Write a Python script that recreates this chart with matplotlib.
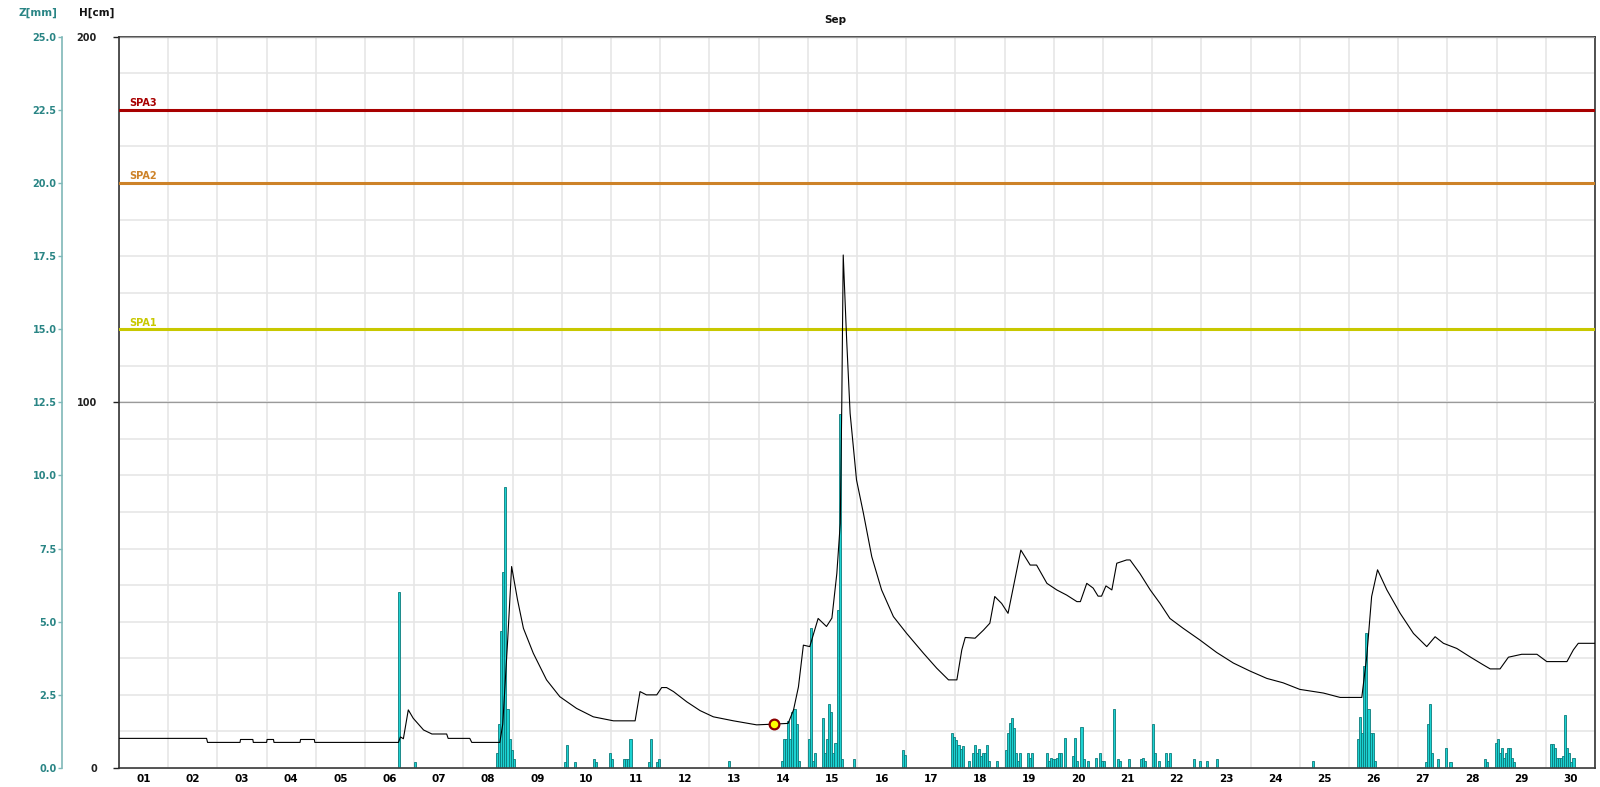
import matplotlib
matplotlib.use("Agg")
import matplotlib.pyplot as plt
import numpy as np
from matplotlib.ticker import MultipleLocator, FixedLocator, FuncFormatter

# ---------------- data ----------------
day_labels = [f"{d:02d}" for d in range(1, 31)]
month_label = "Sep"

# water level H [cm], (day offset from Sep 1 00:00, value)
h_days = [0.0, 1.78, 1.80, 2.46, 2.47, 2.72, 2.73, 3.00, 3.01, 3.14, 3.15, 3.68, 3.69, 3.97, 3.98,
          5.68, 5.72, 5.78, 5.88, 5.98, 6.19, 6.36, 6.66, 6.69, 7.13, 7.17, 7.74, 7.80, 7.90, 7.98,
          8.10, 8.22, 8.42, 8.69, 8.96, 9.30, 9.64, 10.05, 10.49, 10.59, 10.72, 10.93, 11.03, 11.13,
          11.27, 11.54, 11.81, 12.08, 12.49, 12.96, 13.31, 13.60, 13.71, 13.81, 13.91, 14.04, 14.21,
          14.38, 14.49, 14.59, 14.66, 14.69, 14.72, 14.79, 14.86, 14.99, 15.13, 15.30, 15.50, 15.74,
          16.01, 16.35, 16.62, 16.86, 17.03, 17.13, 17.20, 17.40, 17.57, 17.70, 17.80, 17.94, 18.07,
          18.18, 18.33, 18.52, 18.65, 18.86, 19.06, 19.26, 19.47, 19.54, 19.67, 19.80, 19.90, 19.97,
          20.06, 20.18, 20.28, 20.48, 20.55, 20.75, 20.96, 21.16, 21.36, 21.63, 21.97, 22.31, 22.65,
          22.99, 23.33, 23.66, 24.00, 24.48, 24.82, 25.26, 25.36, 25.46, 25.58, 25.77, 26.04, 26.31,
          26.58, 26.75, 26.92, 27.19, 27.46, 27.73, 27.87, 28.07, 28.24, 28.51, 28.82, 29.02, 29.43,
          29.56, 29.66, 30.0]
h_cm = [8.1, 8.1, 7.0, 7.0, 7.8, 7.8, 7.0, 7.0, 7.8, 7.8, 7.0, 7.0, 7.8, 7.8, 7.0,
        7.0, 8.5, 8.0, 15.9, 13.6, 10.4, 9.3, 9.3, 8.1, 8.1, 7.0, 7.0, 12.0, 35.0, 55.1,
        46.0, 38.2, 31.4, 24.1, 19.5, 16.3, 14.0, 12.9, 12.9, 20.9, 20.0, 20.0, 22.0, 22.0,
        20.9, 18.1, 15.7, 14.0, 12.9, 11.8, 12.0, 12.2, 15.9, 22.2, 33.6, 33.2, 40.9,
        38.7, 41.0, 53.2, 66.9, 98.8, 140.3, 117.0, 97.0, 78.8, 69.7, 57.8, 48.7, 41.4,
        36.8, 31.4, 27.3, 24.1, 24.1, 32.3, 35.7, 35.5, 37.7, 39.6, 46.9, 45.0, 42.3,
        49.6, 59.6, 55.5, 55.5, 50.5, 48.7, 47.3, 45.5, 45.5, 50.5, 49.2, 47.0, 47.0,
        49.8, 48.7, 56.0, 56.9, 56.9, 53.2, 48.7, 45.0, 40.9, 38.2, 35.0, 31.6, 28.7,
        26.5, 24.5, 23.3, 21.5, 20.5, 19.3, 19.3, 30.4, 46.9, 54.2, 48.7, 42.3, 36.8,
        33.2, 35.9, 34.1, 32.7, 30.4, 28.2, 27.1, 27.1, 30.3, 31.1, 31.1, 29.1, 29.1,
        32.3, 34.1, 34.1]

# hourly precipitation Z [mm], (hour index from Sep 1 00:00, value)
rain_hour = [136, 144,
             184, 185, 186, 187, 188, 189, 190, 191, 192,
             217, 218, 222, 231, 232, 239, 240, 246, 247, 248, 249, 258, 259, 262, 263, 297,
             323, 324, 325, 326, 327, 328, 329, 330, 331,
             336, 337, 338, 339, 343, 344, 345, 346, 347, 348, 349, 350, 351, 352, 358,
             382, 383,
             406, 407, 408, 409, 410, 411, 414, 416, 417, 418, 419, 420, 421, 422, 423, 424,
             428, 432, 433, 434, 435, 436, 437, 438, 439, 443, 444, 445,
             452, 453, 454, 455, 456, 457, 458, 459, 461, 465, 466, 467, 469, 470, 472,
             476, 478, 479, 480, 485, 487, 488, 492, 498, 499, 500,
             504, 505, 507, 510, 511, 512, 524, 527, 530, 535, 582,
             604, 605, 606, 607, 608, 609, 610, 611, 612,
             637, 638, 639, 640, 643, 647, 649, 666, 667,
             671, 672, 673, 674, 675, 676, 677, 678, 679, 680,
             698, 699, 700, 701, 702, 703, 704, 705, 706, 707, 708, 709]
rain_mm = [6.0, 0.2,
           0.5, 1.5, 4.7, 6.7, 9.6, 2.0, 1.0, 0.6, 0.3,
           0.2, 0.8, 0.2, 0.3, 0.2, 0.5, 0.3, 0.3, 0.3, 0.3, 1.0, 0.2, 1.0, 0.2, 0.3, 0.25,
           0.25, 1.0, 1.0, 1.6, 1.0, 1.9, 2.0, 1.5, 0.25,
           1.0, 4.8, 0.25, 0.5, 1.7, 0.5, 1.0, 2.2, 1.9, 0.5, 0.85, 5.4, 12.1, 0.3, 0.3,
           0.6, 0.45,
           1.2, 1.05, 0.95, 0.8, 0.65, 0.75, 0.25, 0.5, 0.8, 0.5, 0.65, 0.4, 0.5, 0.5, 0.8, 0.25,
           0.23, 0.63, 1.2, 1.54, 1.71, 1.37, 0.5, 0.23, 0.5, 0.5, 0.35, 0.5,
           0.5, 0.23, 0.35, 0.3, 0.3, 0.35, 0.5, 0.5, 1.03, 0.4, 1.03, 0.23, 1.4, 0.3, 0.23,
           0.35, 0.5, 0.23, 0.23, 2.0, 0.3, 0.23, 0.3, 0.3, 0.35, 0.23,
           1.5, 0.5, 0.25, 0.5, 0.25, 0.5, 0.3, 0.25, 0.25, 0.3, 0.25,
           1.0, 1.73, 1.2, 3.5, 4.63, 2.0, 1.2, 1.2, 0.25,
           0.22, 1.5, 2.19, 0.5, 0.3, 0.67, 0.22, 0.3, 0.22,
           0.84, 0.99, 0.5, 0.67, 0.33, 0.5, 0.67, 0.67, 0.33, 0.22,
           0.82, 0.82, 0.67, 0.33, 0.33, 0.33, 0.41, 1.81, 0.67, 0.5, 0.22, 0.33]

spa_names = ["SPA1", "SPA2", "SPA3"]
spa_levels = [120, 160, 180]
spa_colors = ["#C8C800", "#CD8228", "#A80000"]

marker_day = [13.31]
marker_cm = [12.0]

# ---------------- figure ----------------
W, H = 1600, 787
fig = plt.figure(figsize=(16, 7.87), dpi=100)
left, right, bottom, top = 119 / W, 1595 / W, (H - 768) / H, (H - 36.7) / H
axz = fig.add_axes([left, bottom, right - left, top - bottom])  # rain axis (mm)
axh = axz.twinx()                                                 # water level axis (cm)

teal = "#2A8585"
grid_col = "#E6E6E6"

# rain axis
axz.set_xlim(0, 30)
axz.set_ylim(0, 25)
axz.set_axisbelow(True)
axz.bar(np.array(rain_hour) / 24.0, rain_mm, width=1 / 24.0, align="edge",
        color="#1CD2D2", edgecolor="#0B7B7B", linewidth=0.6, zorder=2)
axz.yaxis.set_major_locator(MultipleLocator(2.5))
axz.yaxis.set_minor_locator(MultipleLocator(1.25))
axz.yaxis.set_major_formatter(FuncFormatter(lambda v, p: f"{v:.1f}"))
axz.spines["left"].set_position(("outward", 41))
axz.spines["left"].set_color("#7FB8B8")
axz.spines["left"].set_linewidth(1.2)
for s in ["top", "bottom", "right"]:
    axz.spines[s].set_color("#333333")
    axz.spines[s].set_linewidth(1.2)
axz.tick_params(axis="y", which="major", colors="#7FB8B8", length=3, width=1, pad=1,
                labelcolor=teal, labelsize=7)
axz.tick_params(axis="y", which="minor", length=0)
for t in axz.get_yticklabels():
    t.set_fontweight("bold")

# x axis: labels at day centres, grid at day boundaries
axz.xaxis.set_major_locator(FixedLocator(np.arange(30) + 0.5))
axz.xaxis.set_minor_locator(MultipleLocator(1))
axz.set_xticklabels(day_labels, fontsize=7.5, fontweight="bold")
axz.tick_params(axis="x", which="both", length=0, pad=4)
axz.grid(True, which="minor", axis="x", color=grid_col, linewidth=1.2)
axz.grid(True, which="both", axis="y", color=grid_col, linewidth=1.2)

# water level axis
axh.set_ylim(0, 200)
axh.yaxis.tick_left()
axh.set_yticks([0, 100, 200])
axh.set_yticklabels(["0", "100", "200"], fontsize=7, fontweight="bold")
axh.tick_params(axis="y", length=4, width=1, pad=12, colors="#222222")
axh.grid(True, axis="y", color="#9A9A9A", linewidth=0.9)
for s in ["top", "bottom", "right"]:
    axh.spines[s].set_visible(False)
axh.spines["left"].set_color("#333333")
axh.spines["left"].set_linewidth(1.2)

for name, lvl, col in zip(spa_names, spa_levels, spa_colors):
    axh.axhline(lvl, color=col, linewidth=2.2, zorder=3)
    axh.annotate(name, xy=(0, lvl), xytext=(10, 1.5), textcoords="offset pixels",
                 color=col, fontsize=7, fontweight="bold", va="bottom", ha="left")

axh.plot(h_days, h_cm, color="black", linewidth=0.8, zorder=4)
axh.plot(marker_day, marker_cm, "o", markerfacecolor="#FFFF00", markeredgecolor="#8B0000",
         markersize=7, markeredgewidth=1.6, zorder=5)

# titles
fig.text(38 / W, 1 - 12.7 / H, "Z[mm]", color=teal, fontsize=7.5, fontweight="bold",
         ha="center", va="center")
fig.text(97 / W, 1 - 12.7 / H, "H[cm]", color="#111111", fontsize=7.5, fontweight="bold",
         ha="center", va="center")
fig.text(835 / W, 1 - 20.4 / H, month_label, color="#111111", fontsize=7.5, fontweight="bold",
         ha="center", va="center")

fig.savefig("out.png", dpi=100, facecolor="white")
